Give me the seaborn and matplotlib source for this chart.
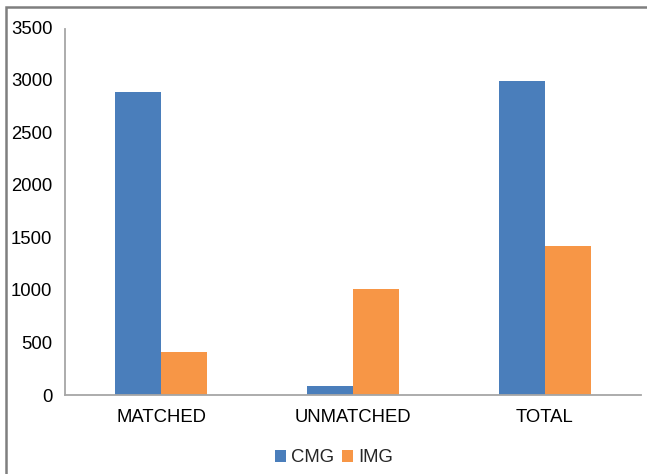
import matplotlib
matplotlib.use("Agg")
import matplotlib.pyplot as plt
import seaborn as sns
import pandas as pd
from matplotlib.patches import Rectangle, Patch

categories = ["MATCHED", "UNMATCHED", "TOTAL"]
cmg_values = [2880, 90, 2985]
img_values = [405, 1005, 1420]
series_names = ["CMG", "IMG"]
colors = ["#4a7ebb", "#f79646"]

df = pd.DataFrame({
    "category": categories * 2,
    "series": [series_names[0]] * 3 + [series_names[1]] * 3,
    "value": cmg_values + img_values,
})

sns.set_theme(style="white")
plt.rcParams["font.family"] = ["Liberation Sans", "DejaVu Sans"]

fig = plt.figure(figsize=(6.47, 4.74), dpi=100)
ax = fig.add_axes([65 / 647, 1 - 395 / 474, (641 - 65) / 647, (395 - 27) / 474])

sns.barplot(data=df, x="category", y="value", hue="series", order=categories,
            hue_order=series_names, palette=colors, width=0.48, saturation=1,
            linewidth=0, ax=ax, legend=False)

ax.set_ylim(0, 3500)
ax.set_yticks(range(0, 3501, 500))
ax.set_xlim(-0.5, 2.5)
ax.set_xlabel("")
ax.set_ylabel("")
ax.tick_params(axis="both", length=0, labelsize=13.3, colors="#000000")
ax.tick_params(axis="y", pad=9)
ax.tick_params(axis="x", pad=10)
for side in ["top", "right"]:
    ax.spines[side].set_visible(False)
for side in ["left", "bottom"]:
    ax.spines[side].set_color("#a6a6a6")
    ax.spines[side].set_linewidth(1.3)
ax.spines["left"].set_bounds(0, 3480)

handles = [Patch(facecolor=c, edgecolor="none") for c in colors]
fig.legend(handles, series_names, loc="center", bbox_to_anchor=(334 / 647, 1 - 458 / 474),
           ncol=2, frameon=False, fontsize=13.3, handlelength=0.6, handleheight=0.6,
           handletextpad=0.25, columnspacing=0.45)

# outer chart frame
fig.patches.append(Rectangle((6 / 647, -0.1), 1.2, 1 - 7 / 474 + 0.1,
                             transform=fig.transFigure, fill=False,
                             edgecolor="#7f7f7f", linewidth=1.8))

fig.savefig("out.png", dpi=100)
